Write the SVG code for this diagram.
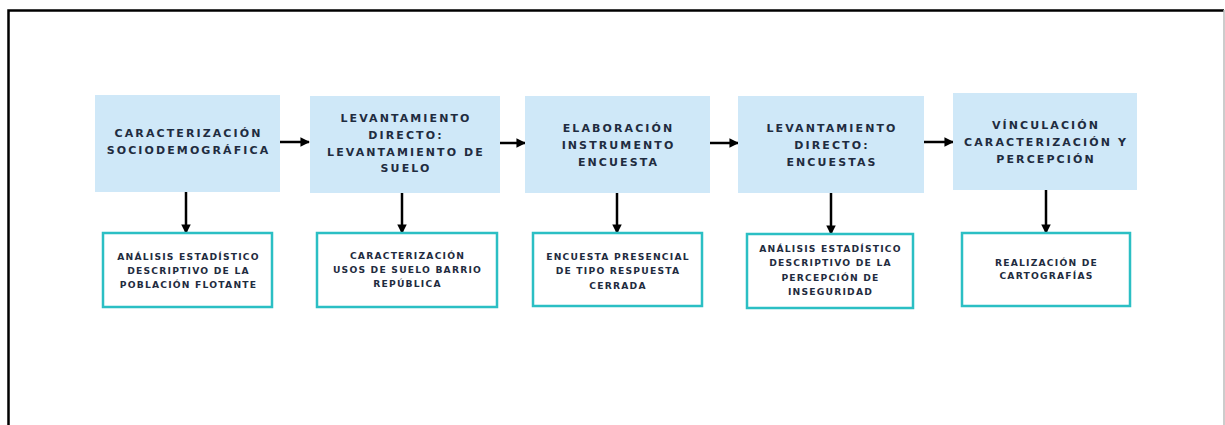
<svg xmlns="http://www.w3.org/2000/svg" width="1225" height="425" viewBox="0 0 1225 425">
<defs>
<style>
.top{fill:#cfe8f8;}
.bot{fill:#ffffff;stroke:#2bbfc4;stroke-width:2.5;}
.t1{font-family:"DejaVu Sans",sans-serif;font-weight:700;font-size:11px;letter-spacing:2.1px;fill:#1f2c40;text-anchor:middle;}
.t2{font-family:"DejaVu Sans",sans-serif;font-weight:700;font-size:9.2px;letter-spacing:1.2px;fill:#1f2c40;text-anchor:middle;}
.arr{stroke:#000;stroke-width:2.5;fill:none;marker-end:url(#ah);}
</style>
<marker id="ah" viewBox="0 0 10 10" refX="9" refY="5" markerWidth="3.8" markerHeight="3.8" orient="auto" markerUnits="strokeWidth">
<path d="M0,0 L10,5 L0,10 Z" fill="#000"/>
</marker>
</defs>
<rect x="0" y="0" width="1225" height="425" fill="#fff"/>
<path d="M8.5,425 L8.5,10.5 L1224,10.5" fill="none" stroke="#000" stroke-width="2.5"/>
<line x1="1224" y1="10" x2="1224" y2="425" stroke="#bbb" stroke-width="1.5"/>

<g id="connectors">
<line class="arr" x1="280" y1="142" x2="309" y2="142"/>
<line class="arr" x1="500" y1="143" x2="525" y2="143"/>
<line class="arr" x1="710" y1="143" x2="738" y2="143"/>
<line class="arr" x1="924" y1="142" x2="953" y2="142"/>
<line class="arr" x1="186" y1="192" x2="186" y2="233"/>
<line class="arr" x1="402" y1="193" x2="402" y2="233"/>
<line class="arr" x1="617" y1="193" x2="617" y2="233"/>
<line class="arr" x1="831" y1="193" x2="831" y2="234"/>
<line class="arr" x1="1046" y1="190" x2="1046" y2="233"/>
</g>

<g id="n1">
<rect class="top" x="95" y="95" width="185" height="97"/>
<text class="t1" x="188.5" y="137">CARACTERIZACIÓN</text>
<text class="t1" x="188.5" y="154">SOCIODEMOGRÁFICA</text>
</g>
<g id="n2">
<rect class="top" x="310" y="96" width="190" height="97"/>
<text class="t1" x="406" y="122">LEVANTAMIENTO</text>
<text class="t1" x="406" y="139">DIRECTO:</text>
<text class="t1" x="406" y="156">LEVANTAMIENTO DE</text>
<text class="t1" x="406" y="172">SUELO</text>
</g>
<g id="n3">
<rect class="top" x="525" y="96" width="185" height="97"/>
<text class="t1" x="618.5" y="132">ELABORACIÓN</text>
<text class="t1" x="618.5" y="149">INSTRUMENTO</text>
<text class="t1" x="618.5" y="166">ENCUESTA</text>
</g>
<g id="n4">
<rect class="top" x="738" y="96" width="186" height="97"/>
<text class="t1" x="832" y="132">LEVANTAMIENTO</text>
<text class="t1" x="832" y="149">DIRECTO:</text>
<text class="t1" x="832" y="166">ENCUESTAS</text>
</g>
<g id="n5">
<rect class="top" x="953" y="93" width="184" height="97"/>
<text class="t1" x="1046" y="129">VÍNCULACIÓN</text>
<text class="t1" x="1046" y="146">CARACTERIZACIÓN Y</text>
<text class="t1" x="1046" y="163">PERCEPCIÓN</text>
</g>

<g id="b1">
<rect class="bot" x="103" y="233" width="169" height="74"/>
<text class="t2" x="188.5" y="259.5">ANÁLISIS ESTADÍSTICO</text>
<text class="t2" x="188.5" y="273.5">DESCRIPTIVO DE LA</text>
<text class="t2" x="188.5" y="287.5">POBLACIÓN FLOTANTE</text>
</g>
<g id="b2">
<rect class="bot" x="317" y="233" width="180" height="74"/>
<text class="t2" x="407.5" y="258.5">CARACTERIZACIÓN</text>
<text class="t2" x="407.5" y="272.5">USOS DE SUELO BARRIO</text>
<text class="t2" x="407.5" y="287">REPÚBLICA</text>
</g>
<g id="b3">
<rect class="bot" x="533" y="233" width="169" height="73"/>
<text class="t2" x="618" y="259.5">ENCUESTA PRESENCIAL</text>
<text class="t2" x="618" y="274">DE TIPO RESPUESTA</text>
<text class="t2" x="618" y="288.5">CERRADA</text>
</g>
<g id="b4">
<rect class="bot" x="747" y="234" width="166" height="74"/>
<text class="t2" x="830.5" y="251.5">ANÁLISIS ESTADÍSTICO</text>
<text class="t2" x="830.5" y="266">DESCRIPTIVO DE LA</text>
<text class="t2" x="830.5" y="280.5">PERCEPCIÓN DE</text>
<text class="t2" x="830.5" y="294.5">INSEGURIDAD</text>
</g>
<g id="b5">
<rect class="bot" x="962" y="233" width="168" height="73"/>
<text class="t2" x="1046.5" y="265.5">REALIZACIÓN DE</text>
<text class="t2" x="1046.5" y="279">CARTOGRAFÍAS</text>
</g>
</svg>
